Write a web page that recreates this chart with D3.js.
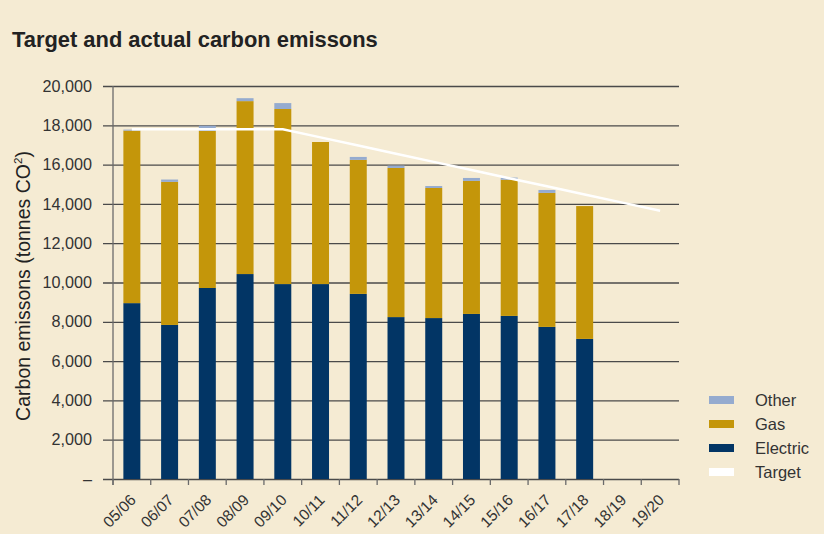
<!DOCTYPE html>
<html>
<head>
<meta charset="utf-8">
<script src="https://cdn.jsdelivr.net/npm/d3@7"></script>
<style>
  body { margin: 0; background: #f5ebd3; }
  svg { display: block; font-family: "Liberation Sans", Arial, sans-serif; }
</style>
</head>
<body>
<script>
'use strict'
const years = ['05/06', '06/07', '07/08', '08/09', '09/10', '10/11', '11/12', '12/13',
  '13/14', '14/15', '15/16', '16/17', '17/18', '18/19', '19/20']
const electric = [8950, 7840, 9720, 10430, 9920, 9920, 9420, 8240, 8190, 8400, 8300, 7740, 7130, null, null]
const gas = [8780, 7280, 7990, 8800, 8910, 7230, 6820, 7590, 6620, 6770, 6930, 6820, 6760, null, null]
const other = [50, 120, 270, 150, 300, 0, 150, 120, 100, 150, 110, 150, 0, null, null]
const target = [17800, 17800, 17800, 17800, 17800, 17385, 16970, 16555, 16140, 15725, 15310, 14895, 14480, 14065, 13650]
const yTicks = [0, 2000, 4000, 6000, 8000, 10000, 12000, 14000, 16000, 18000, 20000]

const series = [
  { name: 'Electric', values: electric, color: '#023565' },
  { name: 'Gas', values: gas, color: '#c4960a' },
  { name: 'Other', values: other, color: '#95abcf' }
]

const width = 824
const height = 534
const margin = { left: 113, right: 145, top: 86, bottom: 55 }

const svg = d3.select('body').append('svg')
  .attr('width', width)
  .attr('height', height)

svg.append('rect')
  .attr('width', width)
  .attr('height', height)
  .attr('fill', '#f5ebd3')

svg.append('text')
  .attr('x', 12)
  .attr('y', 47)
  .attr('font-size', 21.9)
  .attr('font-weight', 'bold')
  .attr('fill', '#222')
  .text('Target and actual carbon emissons')

const x = d3.scaleBand()
  .domain(years)
  .range([margin.left, width - margin.right])
  .paddingInner(0.55)
  .paddingOuter(0.275)

const y = d3.scaleLinear()
  .domain([0, 20000])
  .range([height - margin.bottom, margin.top])

// gridlines + y labels
const yAxis = d3.axisLeft(y)
  .tickValues(yTicks)
  .tickSize(-(width - margin.right - margin.left) - 10)
  .tickPadding(11)
  .tickFormat(d => d === 0 ? '–' : d3.format(',')(d))

const gY = svg.append('g')
  .attr('transform', `translate(${margin.left - 10},0)`)
  .call(yAxis)
gY.select('.domain').remove()
gY.selectAll('.tick line')
  .attr('stroke', '#4a4a4a')
  .attr('stroke-width', 1.3)
gY.selectAll('.tick text')
  .attr('font-size', 16.2)
  .attr('fill', '#333')
  .attr('font-family', '"Liberation Sans", Arial, sans-serif')

// y axis line
svg.append('line')
  .attr('x1', margin.left).attr('x2', margin.left)
  .attr('y1', margin.top).attr('y2', height - margin.bottom + 6)
  .attr('stroke', '#6a6a6a')
  .attr('stroke-width', 1.3)

// x ticks at band boundaries
const step = x.step()
const bounds = d3.range(years.length + 1).map(i => margin.left + i * step)
svg.append('g').selectAll('line')
  .data(bounds)
  .join('line')
  .attr('x1', d => d).attr('x2', d => d)
  .attr('y1', height - margin.bottom).attr('y2', height - margin.bottom + 6)
  .attr('stroke', '#6a6a6a')
  .attr('stroke-width', 1.3)

// stacked bars
const rows = years.map((yr, i) => {
  const r = { year: yr }
  series.forEach(s => { r[s.name] = s.values[i] || 0 })
  return r
})
const stack = d3.stack().keys(series.map(s => s.name))(rows)

svg.append('g').selectAll('g')
  .data(stack)
  .join('g')
  .attr('fill', (d, i) => series[i].color)
  .selectAll('rect')
  .data(d => d)
  .join('rect')
  .attr('x', d => x(d.data.year))
  .attr('width', x.bandwidth())
  .attr('y', d => y(d[1]))
  .attr('height', d => y(d[0]) - y(d[1]))

// target line
const line = d3.line()
  .x((d, i) => x(years[i]) + x.bandwidth() / 2)
  .y(d => y(d))

svg.append('path')
  .datum(target)
  .attr('d', line)
  .attr('fill', 'none')
  .attr('stroke', '#ffffff')
  .attr('stroke-width', 2.5)

// x labels
svg.append('g').selectAll('text')
  .data(years)
  .join('text')
  .attr('transform', d => `translate(${x(d) + x.bandwidth() / 2 + 5},${height - margin.bottom + 22}) rotate(-45)`)
  .attr('text-anchor', 'end')
  .attr('font-size', 15.5)
  .attr('fill', '#333')
  .text(d => d)

// y title
const yt = svg.append('text')
  .attr('transform', `translate(30,286) rotate(-90)`)
  .attr('text-anchor', 'middle')
  .attr('font-size', 19.5)
  .attr('fill', '#222')
yt.append('tspan').text('Carbon emissons (tonnes CO')
yt.append('tspan').attr('font-size', 11.5).attr('dy', -8).text('2')
yt.append('tspan').attr('dy', 8).text(')')

// legend
const legendItems = [
  { name: 'Other', color: '#95abcf' },
  { name: 'Gas', color: '#c4960a' },
  { name: 'Electric', color: '#023565' },
  { name: 'Target', color: '#ffffff' }
]
const lg = svg.append('g').selectAll('g')
  .data(legendItems)
  .join('g')
  .attr('transform', (d, i) => `translate(709,${400 + i * 24})`)
lg.append('rect')
  .attr('y', -4)
  .attr('width', 25)
  .attr('height', 8)
  .attr('fill', d => d.color)
lg.append('text')
  .attr('x', 46)
  .attr('y', 6)
  .attr('font-size', 16.5)
  .attr('fill', '#333')
  .text(d => d.name)
</script>
</body>
</html>
